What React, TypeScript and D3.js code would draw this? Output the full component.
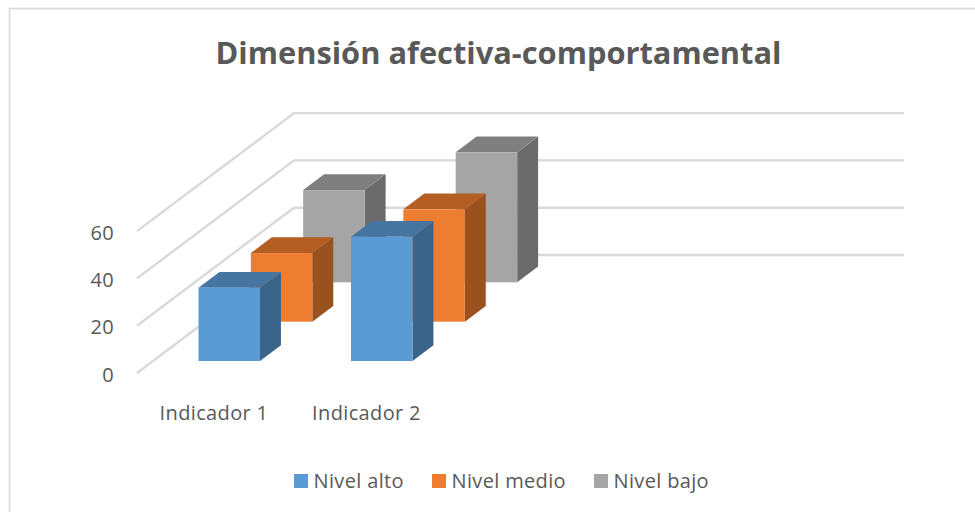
import React from "react";
import * as d3 from "d3";

const categories = ["Indicador 1", "Indicador 2"];
const seriesNames = ["Nivel alto", "Nivel medio", "Nivel bajo"];
const nivelAlto = [31, 52.5];
const nivelMedio = [29, 47.5];
const nivelBajo = [39, 55];
const seriesValues = [nivelAlto, nivelMedio, nivelBajo];
const front = ["#5b9bd5", "#ed7d31", "#a5a5a5"];
const top = ["#4675a1", "#b55e23", "#7f7f7f"];
const side = ["#3b648b", "#99511d", "#6b6b6b"];
const ticks = [0, 20, 40, 60];

const W = 975, H = 512;
const y = d3.scaleLinear().domain([0, 60]).range([0, -141.9]);
const xCat = d3.scalePoint<string>().domain(categories).range([198.5, 351]);
const depth = d3.scaleLinear().domain([0, 3]).range([0, 1]);
const DX = 157, DY = -118;
const px = (d: number) => depth(d) * DX;
const py = (d: number) => depth(d) * DY;
const ox = 137, oy = 373;

const barW = 61.5, barDepth = 0.4;
const fmt = d3.line();
const LS = 0.35;

export default function App() {
  return (
    <svg width={W} height={H} style={{ position: "absolute", left: 0, top: 0 }} fontFamily="'Open Sans', sans-serif">
      <rect width={W} height={H} fill="#fff" />
      <path d="M9.5 512V8.5H975" fill="none" stroke="#d9d9d9" strokeWidth={1.6} />
      <text x={498.5} y={64} textAnchor="middle" fontSize={30.8} fontWeight={700} fill="#595959">Dimensión afectiva-comportamental</text>
      {ticks.map((t) => {
        const yy = oy + y(t);
        return (
          <path key={t} fill="none" stroke="#d9d9d9" strokeWidth={2.4}
            d={fmt([[ox, yy], [ox + DX, yy + DY], [904, yy + DY]]) || ""} />
        );
      })}
      {ticks.map((t) => (
        <text key={t} x={114} y={oy + y(t) + 8.5} textAnchor="end" fontSize={20} letterSpacing={LS} fill="#595959">{t}</text>
      ))}
      {[2, 1, 0].map((s) => (
        <g key={s}>
          {categories.map((c, i) => {
            const v = seriesValues[s][i];
            const x0 = (xCat(c) as number) + px(s);
            const by = 361 + py(s);
            const ty = by + y(v);
            const ddx = px(barDepth), ddy = py(barDepth);
            return (
              <g key={c}>
                <path fill={side[s]} d={fmt([[x0 + barW, ty], [x0 + barW + ddx, ty + ddy], [x0 + barW + ddx, by + ddy], [x0 + barW, by]])! + "Z"} />
                <path fill={top[s]} d={fmt([[x0, ty], [x0 + ddx, ty + ddy], [x0 + barW + ddx, ty + ddy], [x0 + barW, ty]])! + "Z"} />
                <rect x={x0} y={ty} width={barW} height={by - ty} fill={front[s]} />
              </g>
            );
          })}
        </g>
      ))}
      {categories.map((c) => (
        <text key={c} x={(xCat(c) as number) + 15.5} y={420} textAnchor="middle" fontSize={20} letterSpacing={LS} fill="#595959">{c}</text>
      ))}
      {seriesNames.map((n, i) => {
        const lx = [294, 432, 594][i];
        return (
          <g key={n}>
            <rect x={lx} y={474} width={14} height={14} fill={front[i]} />
            <text x={lx + 19.5} y={487.7} fontSize={20} letterSpacing={LS} fill="#595959">{n}</text>
          </g>
        );
      })}
    </svg>
  );
}
